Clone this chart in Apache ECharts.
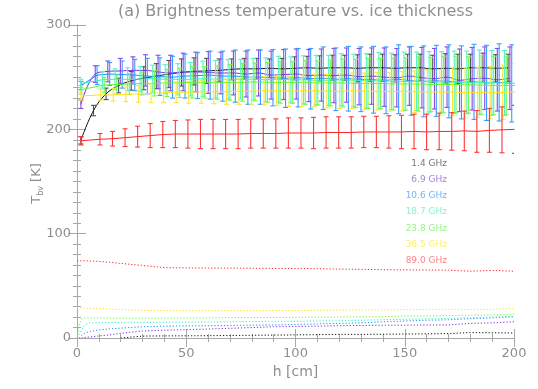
<!DOCTYPE html>
<html><head><meta charset="utf-8">
<script src="https://cdn.jsdelivr.net/npm/echarts@6/dist/echarts.min.js"></script>
<style>html,body{margin:0;padding:0;background:#fff}#c{width:538px;height:389px}</style>
</head><body><div id="c"></div>
<script>
// ---------------- data ----------------
const freqs = ['1.4 GHz', '6.9 GHz', '10.6 GHz', '18.7 GHz', '23.8 GHz', '36.5 GHz', '89.0 GHz'];
const titleText = '(a) Brightness temperature vs. ice thickness';
const xTicks = [0, 50, 100, 150, 200];
const yTicks = [0, 100, 200, 300];

// ice thickness (cm) of the error-bar samples
const hErr = [1.8, 7.55, 13.3, 19.05, 24.8, 30.55, 36.3, 42.05, 47.8, 53.55, 59.3, 65.05, 70.8, 76.55, 82.3, 88.05, 93.8, 99.55, 105.3, 111.05, 116.8, 122.55, 128.3, 134.05, 139.8, 145.55, 151.3, 157.05, 162.8, 168.55, 174.3, 180.05, 185.8, 191.55, 197.3];
// per-frequency shift of the sample positions (cm)
const hShift = [0, 0.8, 1.65, 4.1, 4.9, 3.3, 2.95];

// mean brightness temperature (K)
const tb14 = [189.5, 218, 234, 242, 246.5, 249, 251, 253, 254.5, 255.5, 256, 256.5, 257.5, 258, 258, 258.5, 258, 258.5, 259, 258.5, 259, 259, 258.5, 259, 259, 258.5, 259, 259, 258, 258.5, 258, 259, 259, 258.5, 259];
const tb69 = [224, 253, 255.5, 256, 256.5, 256.5, 255, 254, 255, 255, 254.5, 254, 254, 253, 254, 252, 252.5, 253, 251.5, 252, 251.5, 252, 250.5, 251, 250, 249.5, 251, 249.5, 248.5, 250, 247, 248.5, 249, 247.5, 249];
const tb106 = [242, 252, 253, 252.5, 252, 251, 250.5, 250, 251, 251.5, 252, 251, 251, 250, 250, 249.5, 249, 249.5, 248.5, 249, 248, 248.5, 248, 247.5, 247, 248, 246.5, 246, 246.5, 246, 245, 245.5, 244.5, 245, 244];
const tb187 = [244, 247.5, 248, 248, 248, 248.5, 248, 248, 248, 248.5, 248, 248, 248, 248, 247.5, 248, 247.5, 247.5, 247, 247, 247.5, 247, 246.5, 246.5, 246, 246, 246, 245.5, 245.5, 245, 245, 245, 244.5, 244.5, 244];
const tb238 = [238, 242.5, 243, 243.5, 244, 244, 244.5, 244.5, 245, 245, 245, 245, 245, 245.5, 245, 245, 245, 245, 244.5, 244.5, 244.5, 244, 244, 244, 243.5, 243.5, 243.5, 243, 243, 243, 242.5, 242.5, 242, 242, 242];
const tb365 = [232, 233, 233, 233.5, 234, 234.5, 235, 235.5, 235.5, 236, 236, 236, 236.5, 236.5, 237, 237, 236.5, 237, 237, 236.5, 236.5, 237, 236.5, 236.5, 236, 236.5, 236, 236, 235.5, 236, 235, 235.5, 235, 235.5, 236];
const tb890 = [189, 190.5, 191, 192, 193, 194, 195, 195.5, 195.5, 195.5, 195.5, 195.5, 195.5, 196, 196, 196, 196.5, 196.5, 196.5, 197, 197, 197, 197.5, 197.5, 197.5, 197.5, 198, 197.5, 198, 198, 198.5, 198, 199, 199.5, 200];

// standard deviation (half length of the error bars, K)
const sd14 = [3.5, 5, 5.5, 7, 9, 11, 12, 13, 13, 13, 12, 11, 10, 10, 10, 9, 10, 11, 11, 12, 12, 12, 13, 13, 13, 13, 13, 13, 13, 14, 14, 13, 14, 13, 13];
const sd69 = [4, 8, 10, 12, 13, 15, 16, 17, 18, 19, 20, 20, 21, 22, 22, 23, 24, 24, 25, 25, 26, 26, 27, 27, 28, 28, 28, 29, 29, 29, 30, 30, 30, 30, 30];
const sd106 = [4, 9, 11, 13, 15, 17, 18, 20, 21, 22, 23, 24, 25, 26, 26, 27, 28, 28, 29, 30, 30, 31, 31, 32, 32, 33, 33, 34, 34, 35, 35, 36, 36, 37, 37];
const sd187 = [4, 8, 10, 11, 12, 13, 14, 15, 16, 17, 18, 19, 19, 20, 21, 22, 22, 23, 24, 24, 25, 25, 26, 27, 27, 28, 28, 29, 29, 30, 30, 31, 31, 31, 31];
const sd238 = [4, 7, 9, 10, 11, 12, 13, 14, 15, 15, 16, 17, 18, 18, 19, 20, 20, 21, 21, 22, 23, 23, 24, 24, 25, 25, 26, 26, 27, 27, 27, 28, 28, 28, 28];
const sd365 = [4, 5, 6, 7, 8, 9, 9.5, 10, 10.5, 11, 11.5, 12, 12.5, 13, 13.5, 14, 14.5, 15, 15.5, 16, 16.5, 17, 17.5, 18, 18.5, 19, 20, 21, 22, 23, 24, 24, 25, 26, 27];
const sd890 = [4, 5.5, 7, 8.5, 10, 11.5, 12.5, 13, 13.5, 14, 14, 14, 14, 14, 14, 14, 14.5, 14.5, 15, 15, 15, 15, 15, 15, 15.5, 16, 16.5, 17, 17.5, 18, 19, 20, 21, 22, 23];

// dotted curves (lower values)
const hDot = [0, 1, 2, 3, 4, 6, 10, 15, 20, 30, 40, 50, 60, 70, 80, 90, 100, 110, 120, 130, 140, 150, 160, 170, 180, 190, 200];
const dot14 = [null, null, null, null, null, null, null, null, 0, 1.8, 2, 2.1, 2.2, 2.4, 2.6, 2.8, 3, 3.2, 3.5, 3.5, 3.6, 3.8, 4, 4.2, 5.2, 5, 4.8];
const dot69 = [null, null, 0, 0.3, 0.6, 1, 2, 3, 4.5, 6.7, 7.5, 8, 8.6, 9.3, 10, 10.8, 11, 11.3, 11.8, 12, 12.3, 12.3, 12.5, 12.5, 14, 14.5, 15.6];
const dot106 = [null, 0, 2.5, 4, 5, 6.3, 7.8, 8.7, 9.5, 10.8, 11.3, 11.6, 11.8, 12, 12.3, 12.5, 13, 13.5, 14, 14.5, 15.5, 16.3, 17, 17.5, 18.5, 19.3, 20.4];
const dot187 = [null, 3, 7, 11, 13, 14.5, 14.7, 14.8, 15, 15, 15, 15.2, 15.3, 15.5, 15.8, 16, 16, 16.3, 16.5, 17, 17.5, 18, 18.3, 18.8, 19.5, 20, 20.5];
const dot238 = [0, 12, 18, 19, 19.2, 19.2, 19.3, 19, 19, 19, 19, 19.2, 19.3, 19.5, 19.5, 19.7, 19.8, 20, 20, 20.3, 20.5, 21, 21, 21.5, 21.8, 22, 22.7];
const dot365 = [29, 29, 29, 28.8, 28.7, 28.5, 28.3, 27.8, 27.3, 26.5, 26.3, 26.2, 26.2, 26.3, 26.2, 26.4, 26.3, 26.5, 26.8, 27, 27, 27.2, 27.3, 27.5, 27.3, 27.5, 28.2];
const dot890 = [74, 74, 74, 74, 74, 73.8, 73.5, 72.5, 71.5, 69.5, 67.5, 67.2, 67, 67, 66.8, 66.7, 66.5, 66.5, 66, 65.8, 65.5, 65.3, 65.2, 65, 64, 64.8, 64];

// ---------------- styling ----------------
const tbAll = [tb14, tb69, tb106, tb187, tb238, tb365, tb890];
const sdAll = [sd14, sd69, sd106, sd187, sd238, sd365, sd890];
const dotAll = [dot14, dot69, dot106, dot187, dot238, dot365, dot890];
const lineColors = ['#111111', '#7a2be0', '#1e8fff', '#33efbe', '#5cf53a', '#ffe21a', '#ff2020'];
const barColors = ['#505050', '#8a48e6', '#3a9cff', '#50f5c8', '#70f850', '#ffe430', '#ff3535'];
const labelColors = ['#777777', '#a584e6', '#6fb4ff', '#85f5d5', '#95f57f', '#ffee70', '#ff8585'];
const FONT = 'DejaVu Sans';
const GRAY = '#8f8f8f';

function xPos(s, k) { return k === 0 ? hErr[0] : hErr[k] + hShift[s]; }

const series = [];
dotAll.forEach((arr, s) => {
  series.push({
    type: 'line', name: freqs[s] + ' dot', xAxisIndex: 0, yAxisIndex: 0,
    data: hDot.map((h, i) => [h, arr[i]]),
    showSymbol: false, connectNulls: false, silent: true,
    lineStyle: { color: lineColors[s], width: 1, type: [1.2, 2] }, z: 2
  });
});
tbAll.forEach((arr, s) => {
  const col = lineColors[s], bc = barColors[s];
  series.push({
    type: 'custom', name: freqs[s] + ' err', clip: true, silent: true,
    xAxisIndex: 0, yAxisIndex: 0,
    data: arr.map((v, k) => [xPos(s, k), v, sdAll[s][k]]),
    encode: { x: 0, y: 1 },
    renderItem: function (params, api) {
      const x = api.value(0), y = api.value(1), e = api.value(2);
      const t = api.coord([x, y + e]), b = api.coord([x, y - e]);
      const cw = 2.5;
      const st = { stroke: bc, lineWidth: 1.1 };
      return { type: 'group', children: [
        { type: 'line', shape: { x1: t[0], y1: t[1], x2: b[0], y2: b[1] }, style: st },
        { type: 'line', shape: { x1: t[0] - cw, y1: t[1], x2: t[0] + cw, y2: t[1] }, style: st },
        { type: 'line', shape: { x1: b[0] - cw, y1: b[1], x2: b[0] + cw, y2: b[1] }, style: st }
      ]};
    }, z: 3 + s
  });
  series.push({
    type: 'line', name: freqs[s], xAxisIndex: 0, yAxisIndex: 0,
    data: arr.map((v, k) => [xPos(s, k), v]),
    showSymbol: false, silent: true, smooth: s <= 1 ? 0.4 : false,
    lineStyle: { color: col, width: 1 }, z: 3 + s
  });
});

const axisCommon = {
  axisLine: { show: true, lineStyle: { color: '#a8a8a8', width: 1 } },
  splitLine: { show: false },
};
const chart = echarts.init(document.getElementById('c'), null, { renderer: 'canvas' });
const legendGraphics = freqs.map((f, i) => ({
  type: 'text', right: 538 - 447, top: 159 + i * 16.2,
  style: { text: f, fill: labelColors[i], font: '9px "' + FONT + '"', textAlign: 'right' }
}));
chart.setOption({
  animation: false,
  backgroundColor: '#ffffff',
  grid: { left: 77, right: 24, top: 25, bottom: 51 },
  xAxis: [
    Object.assign({
      type: 'value', min: xTicks[0], max: xTicks[xTicks.length - 1], interval: 50, position: 'bottom',
      name: 'h [cm]', nameLocation: 'middle', nameGap: 25,
      nameTextStyle: { color: GRAY, fontFamily: FONT, fontSize: 14 },
      axisTick: { show: true, inside: true, length: 9, lineStyle: { color: '#a8a8a8' } },
      minorTick: { show: true, splitNumber: 5, length: 4, lineStyle: { color: '#a8a8a8' } },
      axisLabel: { color: GRAY, fontFamily: FONT, fontSize: 13, margin: 9 }
    }, axisCommon),
    Object.assign({
      type: 'value', min: xTicks[0], max: xTicks[xTicks.length - 1], interval: 50, position: 'top',
      axisTick: { show: true, inside: true, length: 9, lineStyle: { color: '#a8a8a8' } },
      minorTick: { show: true, splitNumber: 5, length: 4, lineStyle: { color: '#a8a8a8' } },
      axisLabel: { show: false }
    }, axisCommon)
  ],
  yAxis: [
    Object.assign({
      type: 'value', min: yTicks[0], max: yTicks[yTicks.length - 1], interval: 100, position: 'left',
      axisTick: { show: true, inside: true, length: 9, lineStyle: { color: '#a8a8a8' } },
      minorTick: { show: true, splitNumber: 10, length: 4, lineStyle: { color: '#a8a8a8' } },
      axisLabel: { color: GRAY, fontFamily: FONT, fontSize: 13, margin: 6 }
    }, axisCommon),
    Object.assign({
      type: 'value', min: yTicks[0], max: yTicks[yTicks.length - 1], interval: 100, position: 'right',
      axisTick: { show: true, inside: true, length: 9, lineStyle: { color: '#a8a8a8' } },
      minorTick: { show: true, splitNumber: 10, length: 4, lineStyle: { color: '#a8a8a8' } },
      axisLabel: { show: false }
    }, axisCommon)
  ],
  series: series
});
// title centred over the plot area, rotated y-axis title
const gr = chart.getModel().getComponent('grid').coordinateSystem.getRect();
const yTitle = {
  type: 'text', x: 37, y: gr.y + gr.height / 2 + 2, rotation: Math.PI / 2,
  style: {
    text: '{t|T}{s|bv}{n| [K]}', fill: GRAY, textAlign: 'center', textVerticalAlign: 'middle',
    rich: {
      t: { fill: GRAY, font: '13px "' + FONT + '"' },
      s: { fill: GRAY, font: '8px "' + FONT + '"', padding: [7, 0, 0, 0] },
      n: { fill: GRAY, font: '13px "' + FONT + '"' }
    }
  }
};
chart.setOption({ graphic: [{ type: 'text', x: gr.x + gr.width / 2, top: 4,
  style: { text: titleText, fill: GRAY, font: '16px "' + FONT + '"', textAlign: 'center' } }, yTitle].concat(legendGraphics) }, { replaceMerge: ['graphic'] });
</script>
</body></html>
